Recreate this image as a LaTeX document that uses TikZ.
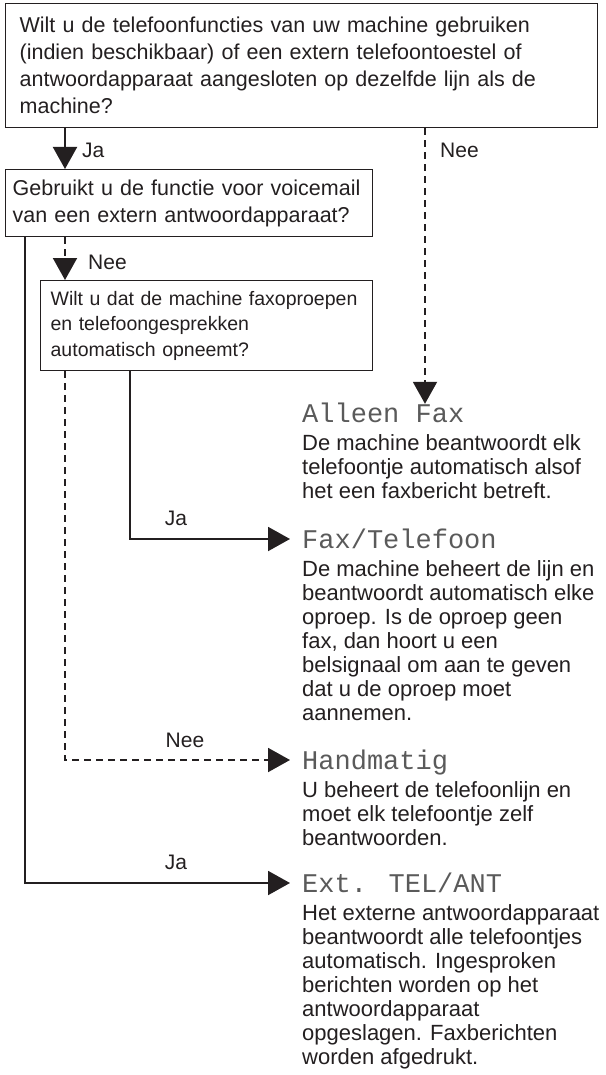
\documentclass[tikz,border=0pt]{standalone}
\usepackage{fontspec}
\setmainfont{Liberation Sans}
\newfontfamily\lcdfont{Liberation Mono}
\usetikzlibrary{arrows.meta,calc}
\definecolor{ink}{HTML}{231F20}
\definecolor{lcdgray}{HTML}{5A5A5A}
\begin{document}
\begin{tikzpicture}[x=1pt,y=-1pt,
  qbox/.style={draw=ink,line width=1.3pt,anchor=north west,align=left,text=ink,inner ysep=0pt},
  yesline/.style={draw=ink,line width=2pt,-{Triangle[length=22pt,width=24pt]}},
  noline/.style={draw=ink,line width=2pt,dash pattern=on 7pt off 5pt,-{Triangle[length=22pt,width=24pt]}},
  lbl/.style={font=\fontsize{21}{24}\selectfont,text=ink,inner sep=0pt},
  ttl/.style={font=\lcdfont\fontsize{27}{27}\selectfont,text=lcdgray,anchor=west,inner xsep=12pt,inner ysep=0pt,text height=18pt,text depth=0pt},
  desc/.style={font=\fontsize{22}{24}\selectfont,text=ink,anchor=north west,align=left,inner sep=0pt}
]
\useasboundingbox (0,0) rectangle (605,1075);

% question boxes
\node[qbox,text width=564pt,inner xsep=14pt,minimum height=124pt,font=\fontsize{21.5}{27}\selectfont] (q1) at (5,3)
  {Wilt u de telefoonfuncties van uw machine gebruiken\\(indien beschikbaar) of een extern telefoontoestel of\\antwoordapparaat aangesloten op dezelfde lijn als de\\machine?};
\node[qbox,text width=353pt,inner xsep=7pt,minimum height=67pt,font=\fontsize{21.5}{27}\selectfont] (q2) at (5,169)
  {Gebruikt u de functie voor voicemail\\van een extern antwoordapparaat?};
\node[qbox,text width=312pt,inner xsep=10pt,minimum height=90pt,font=\fontsize{19.5}{25.5}\selectfont] (q3) at (40,280)
  {Wilt u dat de machine faxoproepen\\en telefoongesprekken\\automatisch opneemt?};

% results
\node[ttl] (t1) at (290,413) {Alleen Fax};
\node[desc] (d1) at (302,434.7) {De machine beantwoordt elk\\telefoontje automatisch alsof\\het een faxbericht betreft.};
\node[ttl] (t2) at (290,539) {Fax/Telefoon};
\node[desc] (d2) at (302,560.7) {De machine beheert de lijn en\\beantwoordt automatisch elke\\oproep. Is de oproep geen\\fax, dan hoort u een\\belsignaal om aan te geven\\dat u de oproep moet\\aannemen.};
\node[ttl] (t3) at (290,760) {Handmatig};
\node[desc] (d3) at (302,781.7) {U beheert de telefoonlijn en\\moet elk telefoontje zelf\\beantwoorden.};
\node[ttl] (t4) at (290,883) {Ext. TEL/ANT};
\node[desc] (d4) at (302,904.7) {Het externe antwoordapparaat\\beantwoordt alle telefoontjes\\automatisch. Ingesproken\\berichten worden op het\\antwoordapparaat\\opgeslagen. Faxberichten\\worden afgedrukt.};

% connector columns
\coordinate (xA) at (25,0);
\coordinate (xB) at (65,0);
\coordinate (xC) at (130,0);
\coordinate (xN) at (425,0);

\draw[yesline] (q1.south -| xB) -- (q2.north -| xB);
\draw[noline] (q1.south -| xN) -- (t1.north -| xN);
\draw[noline] (q2.south -| xB) -- (q3.north -| xB);
\draw[yesline] (q2.south -| xA) |- (t4.west);
\draw[yesline] (q3.south -| xC) |- (t2.west);
\draw[noline] (q3.south -| xB) |- (t3.west);

% labels
\node[lbl,anchor=west] (l1) at (82,150) {Ja};
\node[lbl,anchor=west] (l2) at (440,150) {Nee};
\node[lbl,anchor=west] (l3) at (88,262) {Nee};
\node[lbl] (l4) at (176,518) {Ja};
\node[lbl] (l5) at (185,740) {Nee};
\node[lbl] (l6) at (176,862) {Ja};
\end{tikzpicture}
\end{document}
